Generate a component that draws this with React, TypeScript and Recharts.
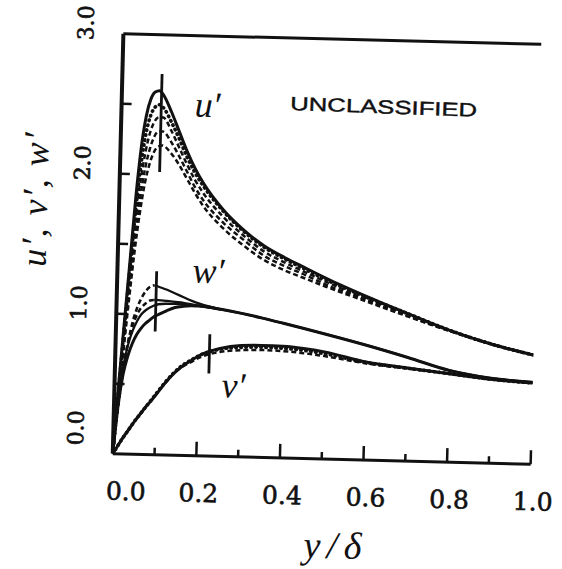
import React from 'react';
import { LineChart, Line, XAxis, YAxis, ReferenceLine } from 'recharts';

// wall-normal positions y/δ shared by every profile
const yDelta = [0, 0.01, 0.02, 0.03, 0.04, 0.05, 0.06, 0.07, 0.08, 0.09, 0.1, 0.12, 0.14, 0.16, 0.18, 0.2, 0.25, 0.3, 0.35, 0.4, 0.45, 0.5, 0.6, 0.7, 0.8, 0.9, 1.0];

// streamwise intensity u'
const uSolid = [0, 0.5, 0.95, 1.4, 1.85, 2.2, 2.42, 2.54, 2.59, 2.6, 2.57, 2.45, 2.31, 2.17, 2.05, 1.95, 1.76, 1.62, 1.51, 1.43, 1.36, 1.29, 1.165, 1.05, 0.94, 0.85, 0.78];
const uDotted = [0, 0.46, 0.9, 1.33, 1.74, 2.07, 2.29, 2.42, 2.48, 2.5, 2.48, 2.38, 2.26, 2.13, 2.02, 1.93, 1.75, 1.61, 1.5, 1.42, 1.35, 1.28, 1.16, 1.05, 0.94, 0.85, 0.78];
const uDashA = [0, 0.42, 0.85, 1.27, 1.65, 1.95, 2.16, 2.3, 2.38, 2.41, 2.41, 2.32, 2.2, 2.08, 1.97, 1.88, 1.71, 1.58, 1.47, 1.395, 1.33, 1.265, 1.15, 1.04, 0.94, 0.85, 0.78];
const uDashB = [0, 0.4, 0.8, 1.2, 1.55, 1.83, 2.04, 2.18, 2.27, 2.31, 2.31, 2.24, 2.14, 2.03, 1.92, 1.83, 1.67, 1.55, 1.44, 1.37, 1.31, 1.245, 1.14, 1.035, 0.935, 0.85, 0.78];
const uDashC = [0, 0.38, 0.76, 1.12, 1.45, 1.72, 1.93, 2.07, 2.16, 2.2, 2.21, 2.16, 2.08, 1.98, 1.88, 1.79, 1.63, 1.51, 1.41, 1.34, 1.285, 1.23, 1.13, 1.03, 0.935, 0.85, 0.78];

// spanwise intensity w'
const wLow = [0, 0.35, 0.57, 0.7, 0.79, 0.855, 0.9, 0.935, 0.96, 0.985, 1.0, 1.03, 1.055, 1.065, 1.07, 1.07, 1.05, 1.025, 0.995, 0.962, 0.928, 0.893, 0.82, 0.74, 0.655, 0.607, 0.585];
const wMid = [0, 0.38, 0.63, 0.78, 0.88, 0.95, 1.0, 1.03, 1.05, 1.065, 1.075, 1.08, 1.08, 1.08, 1.075, 1.07, 1.05, 1.025, 0.995, 0.962, 0.928, 0.893, 0.82, 0.74, 0.655, 0.607, 0.585];
const wHighWall = [0, 0.36, 0.62, 0.8, 0.92, 1.0, 1.05, 1.08, 1.1, 1.105, null, null, null, null, null, null, null, null, null, null, null, null, null, null, null, null, null];
const wHigh = [null, null, null, null, null, null, null, null, null, 1.105, 1.105, 1.1, 1.095, 1.09, 1.08, 1.07, 1.05, null, null, null, null, null, null, null, null, null, null];
const wTopWall = [0, 0.33, 0.6, 0.8, 0.95, 1.05, 1.12, 1.17, 1.2, 1.21, null, null, null, null, null, null, null, null, null, null, null, null, null, null, null, null, null];
const wTop = [null, null, null, null, null, null, null, null, null, 1.21, 1.2, 1.18, 1.155, 1.13, 1.105, 1.085, 1.05, null, null, null, null, null, null, null, null, null, null];

// wall-normal intensity v'
const vSolid = [0, 0.05, 0.1, 0.145, 0.19, 0.235, 0.275, 0.315, 0.355, 0.39, 0.43, 0.51, 0.58, 0.635, 0.675, 0.715, 0.77, 0.795, 0.8, 0.797, 0.785, 0.765, 0.7, 0.665, 0.632, 0.6, 0.58];
const vDotted = [0, 0.05, 0.1, 0.145, 0.19, 0.235, 0.275, 0.315, 0.355, 0.395, 0.435, 0.515, 0.585, 0.64, 0.68, 0.715, 0.765, 0.782, 0.787, 0.783, 0.772, 0.752, 0.697, 0.663, 0.632, 0.6, 0.58];
const vDash = [0, 0.05, 0.1, 0.145, 0.19, 0.235, 0.275, 0.315, 0.355, 0.39, 0.43, 0.51, 0.58, 0.63, 0.665, 0.7, 0.745, 0.762, 0.767, 0.763, 0.752, 0.735, 0.69, 0.66, 0.632, 0.6, 0.58];

// vertical range bars: position and extent
const barX = [0.095, 0.094, 0.225];
const barLow = [2.02, 0.88, 0.59];
const barHigh = [2.72, 1.31, 0.87];

const xTicks = [0, 0.1, 0.2, 0.3, 0.4, 0.5, 0.6, 0.7, 0.8, 0.9, 1.0];
const yTicks = [0, 0.5, 1.0, 1.5, 2.0, 2.5, 3.0];

const rows = yDelta.map((x, i) => ({
  x,
  uSolid: uSolid[i], uDotted: uDotted[i], uDashA: uDashA[i], uDashB: uDashB[i], uDashC: uDashC[i],
  wLow: wLow[i], wMid: wMid[i], wHighWall: wHighWall[i], wHigh: wHigh[i], wTopWall: wTopWall[i], wTop: wTop[i],
  vSolid: vSolid[i], vDotted: vDotted[i], vDash: vDash[i],
}));

const INK = '#111';
const MATH = '"Liberation Serif", "Times New Roman", serif';

const XTick = (props: any) => {
  const { x, y, payload } = props;
  const v = payload.value as number;
  const major = Math.round(v * 10) % 2 === 0;
  const len = major ? 14 : 7;
  return (
    <g>
      {v > 0 && <line x1={x} y1={y} x2={x} y2={y - len} stroke={INK} strokeWidth={2.5} />}
      {major && (
        <text x={x + (v === 0 ? 14 : 3)} y={y + 46} textAnchor="middle" fontFamily="DejaVu Serif" fontSize={25}
          fill={INK} stroke={INK} strokeWidth={0.6}>
          {v.toFixed(1)}
        </text>
      )}
    </g>
  );
};

const YTick = (props: any) => {
  const { x, y, payload } = props;
  const v = payload.value as number;
  const labelled = Math.abs(v - Math.round(v)) < 1e-6;
  const bx = x - 30;
  const by = y + (v === 0 ? -25 : -10);
  return (
    <g>
      {v > 0 && v < 3 && <line x1={x} y1={y} x2={x + 10} y2={y} stroke={INK} strokeWidth={2.5} />}
      {labelled && (
        <text x={bx} y={by} transform={`rotate(-90 ${bx} ${by})`} textAnchor="middle" fontFamily="DejaVu Serif" fontSize={22}
          fill={INK} stroke={INK} strokeWidth={0.6}>
          {v.toFixed(1)}
        </text>
      )}
    </g>
  );
};

const solid = { stroke: INK, strokeWidth: 3, dot: false, isAnimationActive: false, type: 'monotone' as const, connectNulls: false };
const dashed = { ...solid, strokeWidth: 2.5, strokeDasharray: '5 3' };
const dotted = { ...solid, strokeWidth: 3.6, strokeDasharray: '0.5 4.5', strokeLinecap: 'round' as const };

export default function App() {
  return (
    <div style={{ position: 'absolute', left: 0, top: 0, width: 562, height: 569, background: '#fff', overflow: 'hidden' }}>
      <div style={{ position: 'absolute', left: 0, top: 0, width: 562, height: 569, transform: 'rotate(1.45deg)', transformOrigin: '327px 249.3px' }}>
        <LineChart width={562} height={569} data={rows} margin={{ top: 39, right: 26, bottom: 0, left: 0 }}>
          <XAxis dataKey="x" type="number" domain={[0, 1]} ticks={xTicks} interval={0} tick={XTick} tickLine={false}
            tickSize={0} tickMargin={0} height={110} axisLine={{ stroke: INK, strokeWidth: 3 }} allowDataOverflow />
          <YAxis type="number" domain={[0, 3]} ticks={yTicks} interval={0} tick={YTick} tickLine={false}
            tickSize={0} tickMargin={0} width={118} axisLine={{ stroke: INK, strokeWidth: 4 }} allowDataOverflow />
          <ReferenceLine y={3} stroke={INK} strokeWidth={3} />

          <Line dataKey="uDashC" {...dashed} />
          <Line dataKey="uDashB" {...dashed} />
          <Line dataKey="uDashA" {...dashed} />
          <Line dataKey="uDotted" {...dotted} />
          <Line dataKey="uSolid" {...solid} />

          <Line dataKey="wTopWall" {...dashed} />
          <Line dataKey="wHighWall" {...dashed} />
          <Line dataKey="wTop" {...solid} strokeWidth={2.3} />
          <Line dataKey="wHigh" {...solid} strokeWidth={2.3} />
          <Line dataKey="wMid" {...solid} strokeWidth={2.3} />
          <Line dataKey="wLow" {...solid} />

          <Line dataKey="vDash" {...dashed} />
          <Line dataKey="vDotted" {...dotted} />
          <Line dataKey="vSolid" {...solid} />

          {barX.map((bx, i) => (
            <ReferenceLine key={i} segment={[{ x: bx, y: barLow[i] }, { x: bx, y: barHigh[i] }]} stroke={INK} strokeWidth={2.8} />
          ))}
        </LineChart>
        <svg width={562} height={569} style={{ position: 'absolute', left: 0, top: 0, pointerEvents: 'none' }}>
          <text x={204} y={120} textAnchor="middle" fontFamily={MATH} fontStyle="italic" fontSize={36} fill={INK}>u′</text>
          <text x={209} y={286} textAnchor="middle" fontFamily={MATH} fontStyle="italic" fontSize={36} fill={INK}>w′</text>
          <text x={237} y={400} textAnchor="middle" fontFamily={MATH} fontStyle="italic" fontSize={36} fill={INK}>v′</text>
          <text x={380} y={112} textAnchor="middle" fontFamily="Liberation Sans" fontSize={19} fill={INK} stroke={INK} strokeWidth={0.4}
            textLength={187} lengthAdjust="spacingAndGlyphs" transform="rotate(0.6 380 112)">UNCLASSIFIED</text>
          <text x={340} y={558} textAnchor="middle" fontFamily={MATH} fontStyle="italic" fontSize={38} fill={INK}
            textLength={58} lengthAdjust="spacing">y/δ</text>
          <text x={46} y={207} transform="rotate(-90 46 207)" textAnchor="middle" fontFamily={MATH} fontStyle="italic" fontSize={36} fill={INK}
            textLength={134} lengthAdjust="spacing">u′, v′, w′</text>
        </svg>
      </div>
    </div>
  );
}
